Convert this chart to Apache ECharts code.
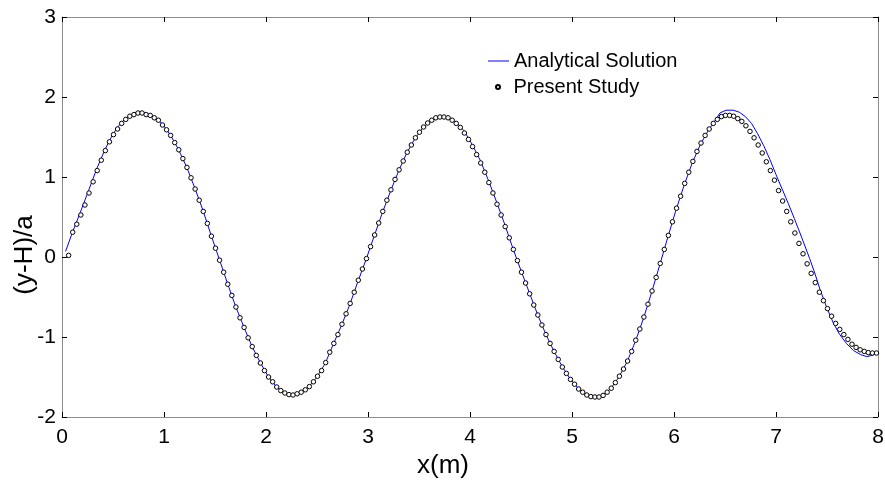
<!DOCTYPE html>
<html>
<head>
<meta charset="utf-8">
<script src="https://cdn.jsdelivr.net/npm/echarts@6/dist/echarts.min.js"></script>
<style>
  html, body { margin: 0; padding: 0; background: #fff; }
  #main { width: 885px; height: 483px; }
</style>
</head>
<body>
<div id="main"></div>
<script>
// x ticks / y ticks
var xTicks = [0, 1, 2, 3, 4, 5, 6, 7, 8];
var yTicks = [-2, -1, 0, 1, 2, 3];

// analytical solution (blue line)
var lineX = [0.035, 0.10, 0.18, 0.26, 0.34, 0.42, 0.50, 0.58, 0.66, 0.74, 0.78, 0.82, 0.90, 0.98, 1.06, 1.14, 1.22, 1.30, 1.38, 1.46,
    1.54, 1.62, 1.70, 1.78, 1.86, 1.94, 2.02, 2.10, 2.18, 2.26, 2.34, 2.42, 2.50, 2.58, 2.66, 2.74, 2.82, 2.90, 2.98, 3.06,
    3.14, 3.22, 3.30, 3.38, 3.46, 3.54, 3.62, 3.70, 3.74, 3.78, 3.86, 3.94, 4.02, 4.10, 4.18, 4.26, 4.34, 4.42, 4.50, 4.58,
    4.66, 4.74, 4.82, 4.90, 4.98, 5.06, 5.14, 5.22, 5.30, 5.38, 5.46, 5.54, 5.62, 5.70, 5.78, 5.86, 5.94, 6.02, 6.10, 6.18,
    6.26, 6.34, 6.39, 6.45, 6.51, 6.58, 6.64, 6.70, 6.76, 6.82, 6.88, 6.94, 7.00, 7.06, 7.12, 7.18, 7.25, 7.33, 7.38, 7.43,
    7.50, 7.56, 7.62, 7.69, 7.76, 7.83, 7.89, 7.94, 8.00];
var lineY = [0.07, 0.30, 0.56, 0.83, 1.10, 1.34, 1.54, 1.68, 1.77, 1.81, 1.815, 1.80, 1.75, 1.67, 1.53, 1.35, 1.13, 0.87, 0.59, 0.28,
    -0.02, -0.32, -0.61, -0.865, -1.11, -1.31, -1.49, -1.62, -1.70, -1.73, -1.69, -1.625, -1.50, -1.33, -1.09, -0.855, -0.60, -0.31, -0.035, 0.26,
    0.55, 0.82, 1.075, 1.30, 1.48, 1.62, 1.705, 1.755, 1.76, 1.75, 1.69, 1.58, 1.41, 1.21, 0.96, 0.69, 0.41, 0.11, -0.17, -0.44,
    -0.71, -0.955, -1.17, -1.36, -1.52, -1.64, -1.72, -1.76, -1.73, -1.645, -1.50, -1.31, -1.06, -0.77, -0.445, -0.10, 0.25, 0.59, 0.90, 1.18,
    1.41, 1.59, 1.68, 1.80, 1.835, 1.835, 1.81, 1.755, 1.67, 1.54, 1.39, 1.22, 1.03, 0.85, 0.67, 0.48, 0.25, -0.02, -0.20, -0.40,
    -0.64, -0.82, -0.96, -1.08, -1.17, -1.22, -1.245, -1.23, -1.20];

// present study (circles), evenly spaced in x
var studyStartX = 0.065;
var studyStepX = 0.04;
var studyY = [0.02, 0.31, 0.41, 0.525, 0.65, 0.80, 0.94, 1.08, 1.21, 1.33,
    1.44, 1.53, 1.60, 1.67, 1.72, 1.76, 1.78, 1.80, 1.80, 1.78,
    1.77, 1.74, 1.71, 1.65, 1.59, 1.52, 1.43, 1.34, 1.23, 1.12,
    0.99, 0.85, 0.71, 0.57, 0.42, 0.26, 0.11, -0.04, -0.19, -0.34,
    -0.48, -0.625, -0.76, -0.88, -1.01, -1.12, -1.23, -1.325, -1.42, -1.50,
    -1.56, -1.625, -1.67, -1.70, -1.72, -1.725, -1.71, -1.69, -1.66, -1.62,
    -1.56, -1.49, -1.42, -1.32, -1.19, -1.08, -0.97, -0.84, -0.71, -0.58,
    -0.44, -0.29, -0.15, -0.02, 0.13, 0.275, 0.425, 0.57, 0.71, 0.84,
    0.97, 1.09, 1.20, 1.31, 1.40, 1.49, 1.56, 1.625, 1.675, 1.71,
    1.74, 1.75, 1.75, 1.74, 1.71, 1.67, 1.62, 1.55, 1.47, 1.38,
    1.28, 1.175, 1.06, 0.93, 0.80, 0.66, 0.525, 0.38, 0.24, 0.095,
    -0.045, -0.19, -0.325, -0.46, -0.60, -0.725, -0.85, -0.97, -1.08, -1.18,
    -1.28, -1.375, -1.455, -1.53, -1.59, -1.65, -1.69, -1.725, -1.745, -1.75,
    -1.75, -1.73, -1.69, -1.64, -1.57, -1.49, -1.40, -1.30, -1.18, -1.04,
    -0.90, -0.75, -0.59, -0.425, -0.255, -0.08, 0.095, 0.27, 0.44, 0.61,
    0.76, 0.92, 1.06, 1.195, 1.32, 1.425, 1.52, 1.60, 1.67, 1.72,
    1.755, 1.77, 1.77, 1.76, 1.73, 1.695, 1.64, 1.57, 1.49, 1.40,
    1.30, 1.19, 1.08, 0.96, 0.83, 0.70, 0.57, 0.44, 0.30, 0.17,
    0.04, -0.085, -0.205, -0.32, -0.44, -0.545, -0.645, -0.74, -0.83, -0.905,
    -0.97, -1.03, -1.09, -1.13, -1.16, -1.18, -1.195, -1.20, -1.20];

var lineData = [];
for (var i = 0; i < lineX.length; i++) {
    lineData.push([lineX[i], lineY[i]]);
}
var studyData = [];
for (var j = 0; j < studyY.length; j++) {
    studyData.push([+(studyStartX + studyStepX * j).toFixed(3), studyY[j]]);
}

var font = 'Liberation Sans, Arial, sans-serif';
var frameColor = '#8c8c8c';

function frameAxis(pos, isX) {
    // axis with no labels, only the grey frame and inward ticks
    var ax = {
        type: 'value',
        position: pos,
        min: isX ? xTicks[0] : yTicks[0],
        max: isX ? xTicks[xTicks.length - 1] : yTicks[yTicks.length - 1],
        interval: 1,
        axisLine: { onZero: false, lineStyle: { color: frameColor, width: 1 } },
        axisTick: { inside: true, length: 5, lineStyle: { color: '#000' } },
        axisLabel: { show: false },
        splitLine: { show: false }
    };
    return ax;
}

var myChart = echarts.init(document.getElementById('main'));
var xBottom = frameAxis('bottom', true);
xBottom.name = 'x(m)';
xBottom.nameLocation = 'middle';
xBottom.nameGap = 36;
xBottom.nameMoveOverlap = false;
// name sits a bit left of the middle, as in the original
xBottom.nameTextStyle = { fontFamily: font, fontSize: 26, color: '#000', padding: [0, 54, 0, 0] };
xBottom.axisLabel = { show: true, margin: 10, fontFamily: font, fontSize: 21, color: '#000' };
var yLeft = frameAxis('left', false);
yLeft.name = '(y-H)/a';
yLeft.nameLocation = 'middle';
yLeft.nameGap = 24;
yLeft.nameMoveOverlap = false;
// name sits lower than the middle, near y = 0
yLeft.nameTextStyle = { fontFamily: font, fontSize: 26, color: '#000', padding: [0, 76, 0, 0] };
yLeft.axisLabel = { show: true, margin: 6, fontFamily: font, fontSize: 21, color: '#000' };

var option = {
    animation: false,
    backgroundColor: '#fff',
    grid: { left: 62, right: 7, top: 17, bottom: 66, outerBoundsMode: 'none', containLabel: false },
    legend: [{
        data: ['Analytical Solution'],
        orient: 'vertical',
        left: 483,
        top: 46,
        itemWidth: 21,
        itemHeight: 1,
        icon: 'rect',
        textStyle: { fontFamily: font, fontSize: 20, color: '#000' }
    }, {
        data: ['Present Study'],
        orient: 'vertical',
        left: 490,
        top: 72,
        itemWidth: 21,
        itemHeight: 4,
        icon: 'circle',
        textStyle: { fontFamily: font, fontSize: 20, color: '#000' }
    }],
    xAxis: [xBottom, frameAxis('top', true)],
    yAxis: [yLeft, frameAxis('right', false)],
    series: [{
        name: 'Analytical Solution',
        type: 'line',
        data: lineData,
        showSymbol: false,
        smooth: false,
        lineStyle: { color: '#0000ff', width: 1 },
        itemStyle: { color: '#0000ff' },
        z: 2
    }, {
        name: 'Present Study',
        type: 'scatter',
        data: studyData,
        symbol: 'circle',
        symbolSize: 4.5,
        itemStyle: { color: '#ffffff', borderColor: '#000', borderWidth: 1, opacity: 1 },
        z: 3
    }]
};
myChart.setOption(option);
</script>
</body>
</html>
